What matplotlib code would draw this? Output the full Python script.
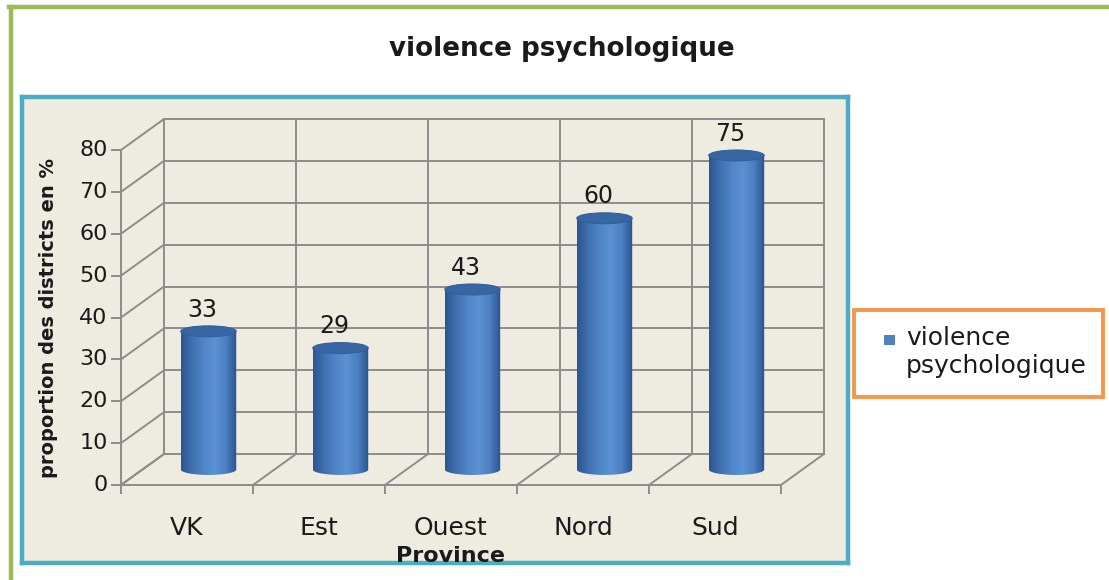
import matplotlib
matplotlib.use("Agg")
import matplotlib.pyplot as plt
import numpy as np
from matplotlib.patches import Ellipse, Rectangle, PathPatch
from matplotlib.path import Path
from matplotlib.colors import LinearSegmentedColormap
from matplotlib.lines import Line2D

plt.rcParams['font.family'] = ['DejaVu Sans']

# data
provinces = ['VK', 'Est', 'Ouest', 'Nord', 'Sud']
values = [33, 29, 43, 60, 75]
yticks = [0, 10, 20, 30, 40, 50, 60, 70, 80]
series_name = 'violence\npsychologique'
title = 'violence psychologique'
xlabel = 'Province'
ylabel = 'proportion des districts en %'

# pseudo 3d depth offset (in data units)
dx, dy = 0.326, 7.4
bar_w = 0.42
cap_h = 2.6

grid_col = '#8c8c8c'
wall_col = '#eeece1'
txt_col = '#1a1a1a'
cyl_cmap = LinearSegmentedColormap.from_list(
    'cyl', ['#2b5591', '#3f70b0', '#4f84c6', '#5a91d4', '#4c80c2', '#2a538e'])

fig = plt.figure(figsize=(11.09, 5.80), dpi=100)
W, H = 1109, 580
ax = fig.add_axes([22 / W, (580 - 563) / H, (848 - 22) / W, (563 - 97) / H])
ax.set_facecolor(wall_col)
ax.set_xticks([])
ax.set_yticks([])
for s in ax.spines.values():
    s.set_color('#4bacc6')
    s.set_linewidth(3.2)

n = len(provinces)
ymax = yticks[-1]
lw = 1.4

# back wall, side wall and floor
for v in yticks:
    ax.plot([dx, n + dx], [v + dy, v + dy], color=grid_col, lw=lw, zorder=1)
    ax.plot([0, dx], [v, v + dy], color=grid_col, lw=lw, zorder=1)
for i in range(n + 1):
    ax.plot([i + dx, i + dx], [dy, ymax + dy], color=grid_col, lw=lw, zorder=1)
    ax.plot([i, i + dx], [0, dy], color=grid_col, lw=lw, zorder=1)
    ax.plot([i, i], [0, -2.0], color=grid_col, lw=lw, zorder=1)

# front axes
ax.plot([0, n], [0, 0], color=grid_col, lw=lw, zorder=1)
ax.plot([0, 0], [0, ymax], color=grid_col, lw=lw, zorder=1)
for v in yticks:
    ax.plot([-0.07, 0], [v, v], color=grid_col, lw=lw, zorder=1)
    ax.text(-0.1, v, str(v), ha='right', va='center', fontsize=16, color=txt_col)

# cylinders
grad = np.linspace(0, 1, 256).reshape(1, -1)
for i, (p, v) in enumerate(zip(provinces, values)):
    xc = i + 0.5 + dx / 2
    yb = dy / 2
    yt = yb + v
    x0, x1 = xc - bar_w / 2, xc + bar_w / 2
    t = np.linspace(np.pi, 2 * np.pi, 40)
    ex = xc + bar_w / 2 * np.cos(t)
    ey = yb + cap_h / 2 * np.sin(t)
    verts = list(zip(ex, ey)) + [(x1, yt), (x0, yt), (ex[0], ey[0])]
    codes = [Path.MOVETO] + [Path.LINETO] * (len(verts) - 2) + [Path.CLOSEPOLY]
    clip = PathPatch(Path(verts, codes), facecolor='none', edgecolor='none')
    ax.add_patch(clip)
    im = ax.imshow(grad, cmap=cyl_cmap, aspect='auto',
                   extent=[x0, x1, yb - cap_h, yt], zorder=3)
    im.set_clip_path(clip)
    ax.add_patch(Ellipse((xc, yt), bar_w, cap_h, facecolor='#3866a3',
                         edgecolor='#33609c', lw=0.8, zorder=4))
    ax.text(xc - 0.05, yt + 5.2, str(v), ha='center', va='center',
            fontsize=17, color=txt_col)
    ax.text(i + 0.5, -10.3, p, ha='center', va='center', fontsize=18,
            color=txt_col)

ax.set_xlim(-0.75, 5.508)
ax.set_ylim(-18.63, 92.66)

ax.text(2.5, -17.0, xlabel, ha='center', va='center', fontsize=16,
        fontweight='bold', color=txt_col)
ax.text(-0.55, 40, ylabel, ha='center', va='center', rotation=90,
        fontsize=14, fontweight='bold', color=txt_col)

fig.text(562 / W, 1 - 49 / H, title, ha='center', va='center',
         fontsize=18.8, fontweight='bold', color=txt_col)

# legend box
fig.add_artist(Rectangle((854 / W, 1 - 397 / H), (1103 - 854) / W, (397 - 310) / H,
                         transform=fig.transFigure, facecolor='white',
                         edgecolor='#f79646', lw=2.8))
fig.add_artist(Rectangle((884 / W, 1 - 345 / H), 11 / W, 10 / H,
                         transform=fig.transFigure, facecolor='#4f81bd',
                         edgecolor='none'))
for k, line in enumerate(series_name.split('\n')):
    fig.text(906 / W, 1 - (345 + 28 * k) / H, line, ha='left', va='baseline',
             fontsize=18, color=txt_col)

# outer green frame
fig.add_artist(Line2D([11 / W, 11 / W], [0, 1 - 7 / H], transform=fig.transFigure,
                      color='#9bbb59', lw=3.2))
fig.add_artist(Line2D([9 / W, 1], [1 - 7 / H, 1 - 7 / H], transform=fig.transFigure,
                      color='#9bbb59', lw=3.2))

fig.savefig('out.png', dpi=100, facecolor='white')
